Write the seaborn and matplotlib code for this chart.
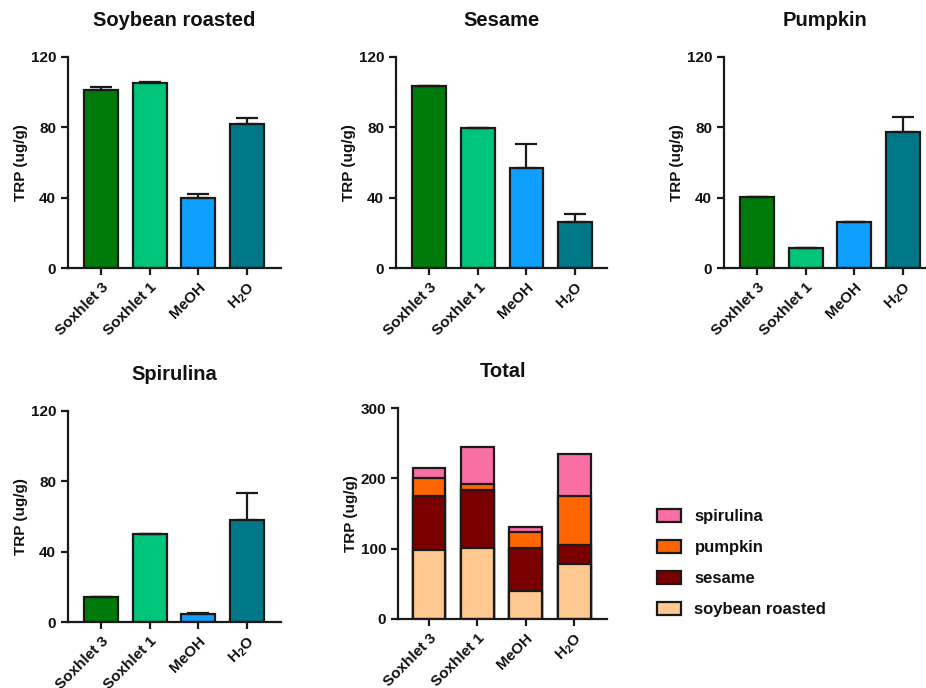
import numpy as np
import pandas as pd
import matplotlib
matplotlib.use("Agg")
import matplotlib.pyplot as plt
from matplotlib.patches import Patch
import seaborn as sns

sns.set_theme(style="ticks")
plt.rcParams["font.family"] = ["Liberation Sans", "DejaVu Sans"]
plt.rcParams["font.weight"] = "bold"
plt.rcParams["mathtext.fontset"] = "custom"
plt.rcParams["mathtext.rm"] = "Liberation Sans"
plt.rcParams["mathtext.bf"] = "Liberation Sans:bold"
for key in ["text.color", "axes.labelcolor", "xtick.color", "ytick.color"]:
    plt.rcParams[key] = "#111111"

# Extraction methods
methods = ["Soxhlet 3", "Soxhlet 1", "MeOH", "H$_2$O"]

# TRP content (ug/g) per sample: mean and upper error
soy_mean = [101.5, 105.0, 40.0, 82.0]
soy_err = [1.2, 0.5, 2.0, 3.2]
sesame_mean = [103.3, 79.4, 56.7, 26.2]
sesame_err = [0.0, 0.0, 13.7, 4.5]
pumpkin_mean = [40.2, 11.4, 26.3, 77.5]
pumpkin_err = [0.0, 0.0, 0.0, 8.4]
spirulina_mean = [14.2, 50.3, 4.5, 58.1]
spirulina_err = [0.0, 0.0, 0.8, 15.3]

# Stacked totals (ug/g) per component
total_soy = [98.2, 101.6, 39.9, 78.8]
total_sesame = [76.9, 81.6, 60.7, 26.6]
total_pumpkin = [25.2, 9.0, 23.7, 69.3]
total_spirulina = [13.8, 52.2, 6.7, 59.8]

method_colors = ["#007a0a", "#00c47a", "#0fa0ff", "#007888"]
stack_labels = ["spirulina", "pumpkin", "sesame", "soybean roasted"]
stack_colors = ["#f86ea5", "#ff6600", "#7a0000", "#ffc890"]

W, H = 926, 688
fig = plt.figure(figsize=(W / 100, H / 100), dpi=100)


def px_axes(left, right, top, bottom):
    return fig.add_axes([left / W, (H - bottom) / H, (right - left) / W, (bottom - top) / H])


def style_axes(ax, title, ymax, step, xlim):
    ax.set_xlim(*xlim)
    ax.set_ylim(0, ymax)
    ax.set_yticks(np.arange(0, ymax + 1, step))
    ax.set_title(title, fontsize=14.5, fontweight="bold", pad=22)
    ax.set_ylabel("TRP (ug/g)", fontsize=11, fontweight="bold", labelpad=2)
    ax.set_xlabel("")
    for s in ["top", "right"]:
        ax.spines[s].set_visible(False)
    for s in ["left", "bottom"]:
        ax.spines[s].set_linewidth(1.6)
        ax.spines[s].set_color("#1a1a1a")
    ax.tick_params(axis="both", width=1.6, length=5, color="#1a1a1a", labelsize=11)
    ax.set_xticks(range(len(methods)))
    ax.set_xticklabels(methods, rotation=45, ha="right", rotation_mode="anchor",
                       fontweight="bold")
    for lab in ax.get_yticklabels():
        lab.set_fontweight("bold")


def panel(ax, title, means, errs, xlim):
    df = pd.DataFrame({"method": methods, "trp": means})
    sns.barplot(data=df, x="method", y="trp", hue="method", palette=method_colors,
                saturation=1, width=0.7, edgecolor="#1a1a1a", linewidth=1.6,
                legend=False, ax=ax, zorder=2)
    up = np.array(errs)
    ax.errorbar(np.arange(len(means)), means, yerr=[np.zeros_like(up), up], fmt="none",
                ecolor="#1a1a1a", elinewidth=1.6, capsize=8, capthick=1.6, zorder=3)
    style_axes(ax, title, 120, 40, xlim)


ax1 = px_axes(68, 281, 57, 268)
panel(ax1, "Soybean roasted", soy_mean, soy_err, (-0.68, 3.7))
ax2 = px_axes(396, 607, 57, 268)
panel(ax2, "Sesame", sesame_mean, sesame_err, (-0.69, 3.66))
ax3 = px_axes(724, 926, 57, 268)
panel(ax3, "Pumpkin", pumpkin_mean, pumpkin_err, (-0.68, 3.47))
ax4 = px_axes(68, 281, 411, 622)
panel(ax4, "Spirulina", spirulina_mean, spirulina_err, (-0.68, 3.7))

# Stacked total: draw cumulative heights from the tallest down
ax5 = px_axes(398, 607, 408, 619)
layers = [total_soy, total_sesame, total_pumpkin, total_spirulina]
cum = np.cumsum(np.array(layers), axis=0)
layer_colors = stack_colors[::-1]
for i in range(len(layers) - 1, -1, -1):
    df = pd.DataFrame({"method": methods, "trp": cum[i]})
    sns.barplot(data=df, x="method", y="trp", color=layer_colors[i], saturation=1,
                width=0.68, edgecolor="#1a1a1a", linewidth=1.6, ax=ax5, zorder=2)
style_axes(ax5, "Total", 300, 100, (-0.64, 3.68))

handles = [Patch(facecolor=c, edgecolor="#1a1a1a", linewidth=1.6) for c in stack_colors]
fig.legend(handles, stack_labels, loc="upper left", bbox_to_anchor=(642 / W, (H - 494) / H),
           frameon=False, prop={"weight": "bold", "size": 12}, handlelength=1.45,
           handleheight=0.8, labelspacing=0.95, handletextpad=0.8)

fig.savefig("out.png", dpi=100)
